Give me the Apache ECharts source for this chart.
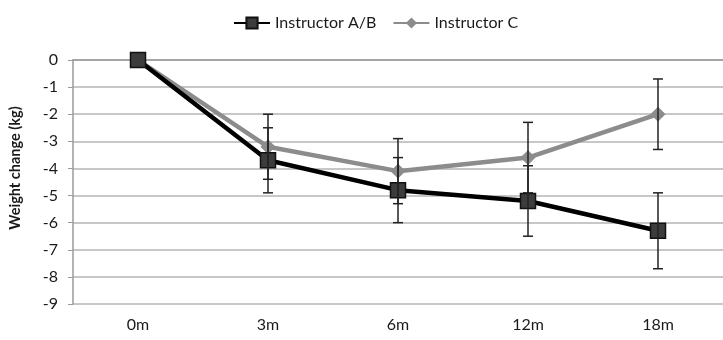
<!DOCTYPE html>
<html><head><meta charset="utf-8">
<script src="https://cdn.jsdelivr.net/npm/echarts@6/dist/echarts.min.js"></script>
<style>html,body{margin:0;padding:0;background:#fff}#c{width:723px;height:340px}</style>
</head><body><div id="c"></div>
<script>
var categories = ['0m','3m','6m','12m','18m'];
var seriesAB = [0, -3.7, -4.8, -5.2, -6.3];
var seriesC = [0, -3.2, -4.1, -3.6, -2.0];
var errAB = [0, 1.2, 1.2, 1.3, 1.4];
var errC = [0, 1.2, 1.2, 1.3, 1.3];
var yTicks = [0,-1,-2,-3,-4,-5,-6,-7,-8,-9];

function errData(vals, errs){
  var out = [];
  for (var i=0;i<vals.length;i++){ if(errs[i]>0) out.push([i, vals[i]-errs[i], vals[i]+errs[i]]); }
  return out;
}
function errRender(params, api){
  var x = api.value(0);
  var lo = api.coord([x, api.value(1)]);
  var hi = api.coord([x, api.value(2)]);
  var w = 5;
  var st = {stroke:'#222', lineWidth:1.5};
  return {type:'group', children:[
    {type:'line', shape:{x1:lo[0],y1:lo[1],x2:hi[0],y2:hi[1]}, style:st},
    {type:'line', shape:{x1:lo[0]-w,y1:lo[1],x2:lo[0]+w,y2:lo[1]}, style:st},
    {type:'line', shape:{x1:hi[0]-w,y1:hi[1],x2:hi[0]+w,y2:hi[1]}, style:st}
  ]};
}
var font = 'Lato, Open Sans, sans-serif';
var chart = echarts.init(document.getElementById('c'));
chart.setOption({
  animation:false,
  textStyle:{fontFamily:font},
  legend:{top:10, left:228, itemWidth:36, itemHeight:14, itemGap:16,
    textStyle:{fontFamily:font, fontSize:16, color:'#1a1a1a'},
    data:['Instructor A/B','Instructor C']},
  grid:{left:73, top:60, height:244, width:655},
  xAxis:{type:'category', data:categories, boundaryGap:true,
    axisLine:{lineStyle:{color:'#9a9a9a', width:1.5}},
    axisTick:{show:false},
    axisLabel:{fontFamily:font, fontSize:16, color:'#1a1a1a', margin:13}},
  yAxis:{type:'value', min:-9, max:0, interval:1,
    name:'Weight change (kg)', nameLocation:'middle', nameGap:50, nameRotate:90,
    nameTextStyle:{fontFamily:font, fontSize:14.5, fontWeight:'bold', color:'#1a1a1a', padding:[0,0,0,28]},
    axisLine:{show:true, lineStyle:{color:'#9a9a9a', width:1.5}},
    axisTick:{show:true, length:5, lineStyle:{color:'#9a9a9a'}},
    axisLabel:{fontFamily:font, fontSize:16, color:'#1a1a1a', margin:15},
    splitLine:{lineStyle:{color:'#b4b4b4', width:1.5}}},
  series:[
    {name:'Instructor C', type:'line', data:seriesC, z:3,
     symbol:'diamond', symbolSize:14,
     lineStyle:{color:'#8c8c8c', width:4.5},
     itemStyle:{color:'#8c8c8c', borderColor:'#8c8c8c'}},
    {name:'Instructor A/B', type:'line', data:seriesAB, z:4,
     symbol:'rect', symbolSize:15,
     lineStyle:{color:'#000', width:4.5},
     itemStyle:{color:'#3c3c3c', borderColor:'#111', borderWidth:1.5}},
    {type:'custom', renderItem:errRender, data:errData(seriesC, errC), z:5, silent:true,
     encode:{x:0, y:[1,2]}},
    {type:'custom', renderItem:errRender, data:errData(seriesAB, errAB), z:5, silent:true,
     encode:{x:0, y:[1,2]}}
  ]
});
</script></body></html>
